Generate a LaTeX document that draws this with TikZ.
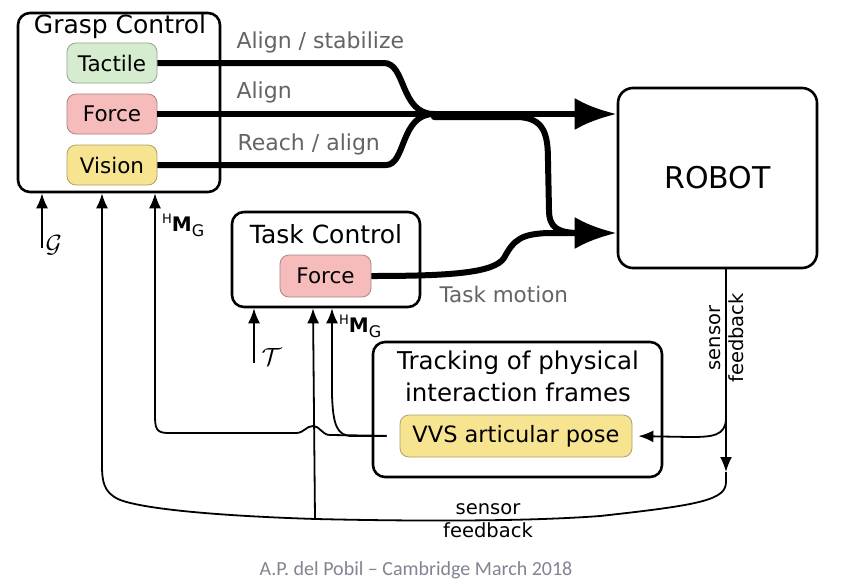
\documentclass[tikz,border=0pt]{standalone}
\usepackage{fontspec}
\setmainfont{DejaVu Sans}
\newfontfamily\capfont{Carlito}
\usetikzlibrary{arrows.meta,calc}
\definecolor{tactfill}{RGB}{213,236,207}
\definecolor{forcefill}{RGB}{246,188,188}
\definecolor{visfill}{RGB}{247,228,145}
\definecolor{labgray}{RGB}{100,100,100}
\definecolor{capgray}{RGB}{130,132,148}
\def\HMG{\raisebox{8pt}{\fontsize{13}{13}\selectfont H}{\fontsize{20}{20}\selectfont\bfseries M}\raisebox{-5pt}{\fontsize{16}{16}\selectfont G}}

\begin{document}
\begin{tikzpicture}[x=1pt,y=-1pt,
		group/.style={draw,line width=2.6pt,rounded corners=12pt},
		ctrl/.style={draw=#1!70!black,fill=#1,line width=0.8pt,rounded corners=9pt,minimum width=90pt,minimum height=40pt,inner sep=0pt,font=\fontsize{21.5}{24}\selectfont},
		title/.style={font=\fontsize{25}{32}\selectfont,align=center},
		lab/.style={anchor=west,text=labgray,font=\fontsize{22}{24}\selectfont},
		fat/.style={line width=6pt},
		fatarrow/.style={line width=6pt,-{Latex[length=42pt,width=32pt]}},
		slim/.style={line width=1.8pt},
		slimarrow/.style={line width=1.8pt,-{Latex[length=15pt,width=12pt]}},
		small/.style={font=\fontsize{19.5}{23}\selectfont,align=center}]
			%%%%% START %%%%%
			\useasboundingbox[fill=white] (0,0) rectangle (851,587);
			
			% grasp control
			\node[group,minimum width=202pt,minimum height=179pt] (grasp) at (119,102.5) {};
			\node[title] (grasptitle) at (120,27) {Grasp Control};
			\node[ctrl=tactfill] (tactile) at (112,63) {Tactile};
			\node[ctrl=forcefill] (gforce) at (112,114) {Force};
			\node[ctrl=visfill] (vision) at (112,165) {Vision};
			
			% robot
			\node[group,rounded corners=15pt,minimum width=199pt,minimum height=180pt,font=\fontsize{30}{32}\selectfont] (robot) at (717.5,178) {ROBOT};
			
			% task control
			\node[group,minimum width=188pt,minimum height=95pt] (task) at (326,259.5) {};
			\node[title] (tasktitle) at (326,234) {Task Control};
			\node[ctrl=forcefill,minimum width=91pt,minimum height=42pt] (tforce) at (325.5,276) {Force};
			
			% tracking
			\node[group,minimum width=289pt,minimum height=135pt] (track) at (517.5,409.5) {};
			\node[title,font=\fontsize{24.5}{32}\selectfont] (tracktitle) at (518,376) {Tracking of physical\\interaction frames};
			\node[ctrl=visfill,minimum width=232pt,minimum height=42pt,font=\fontsize{22.5}{24}\selectfont] (vvs) at (516,436) {VVS articular pose};
			
			% labels
			\node[lab] (lstab) at (233,42) {Align / stabilize};
			\node[lab] (lalign) at (233,92) {Align};
			\node[lab] (lreach) at (234,144) {Reach / align};
			\node[lab,font=\fontsize{21.5}{24}\selectfont] (lmotion) at (436,294) {Task motion};
			\node[anchor=west,font=\fontsize{27}{27}\selectfont] (lg) at (42,245) {$\mathcal{G}$};
			\node[anchor=west,font=\fontsize{25}{25}\selectfont] (lt) at (258,357) {$\mathcal{T}$};
			\node[anchor=west,inner sep=0pt] (hmg1) at (162,225) {\HMG};
			\node[anchor=west,inner sep=0pt] (hmg2) at (339,326) {\HMG};
			
			% thick connectors
			\coordinate (merge) at (434,114);
			\coordinate (rlow) at ($(robot.west)+(0,55)$);
			\draw[fat] (tactile.east) -- (384,63) .. controls (406,63) and (400,114) .. (merge);
			\draw[fat] (vision.east) -- (386,165) .. controls (406,165) and (400,114) .. (merge);
			\draw[fatarrow] (gforce.east) -- (gforce.east -| robot.west);
			\draw[fat,line cap=round] (merge) ++(0,3) -- (516,117) .. controls (546,117) and (548,137) .. (548,162) -- (549,210) .. controls (549,228) and (558,233) .. (580,233);
			\draw[fatarrow] (tforce.east) .. controls (450,276) and (494,273) .. (504,258) .. controls (514,239) and (522,234) .. (548,233) -- (rlow);
			
			% sensor feedback
			\coordinate (fbk) at (726,472);
			\draw[slimarrow] (robot.south -| fbk) -- (fbk);
			\node[small,rotate=90] (sfb1) at (727,338) {sensor\\feedback};
			\draw[slimarrow,shorten >=6pt] (726,418) .. controls (726,436) and (712,437) .. (690,437) -- (vvs.east);
			\draw[slimarrow] (fbk) -- (726,482) .. controls (726,500) and (700,505) .. (600,516) .. controls (520,522) and (400,521) .. (316,519) .. controls (220,516) and (140,509) .. (118,499) .. controls (104,492) and (102,482) .. (102,465) -- (grasp.south -| 102,0);
			\node[small] (sfb2) at (488,521) {sensor\\feedback};
			\draw[slimarrow] (315,519) -- (task.south -| 313,0);
			
			% pose feedback
			\draw[slimarrow,shorten <=13pt] (vvs.west) -- (352,436) .. controls (337,436) and (333,425) .. (332,395) -- (task.south -| 332,0);
			\draw[slimarrow,shorten <=13pt] (vvs.west) -- (330,435) .. controls (322,435) and (320,426) .. (313,426) .. controls (306,426) and (304,433) .. (296,433) -- (168,433) .. controls (156,433) and (155,428) .. (155,415) -- (grasp.south -| 155,0);
			
			% inputs
			\draw[slimarrow] (42,248) -- (grasp.south -| 42,0);
			\draw[slimarrow] (254,363) -- (task.south -| 254,0);
			
			\node[font=\capfont\fontsize{20}{20}\selectfont,text=capgray] (credit) at (416,570) {A.P. del Pobil – Cambridge March 2018};
			%%%%% END %%%%%
\end{tikzpicture}
\end{document}
